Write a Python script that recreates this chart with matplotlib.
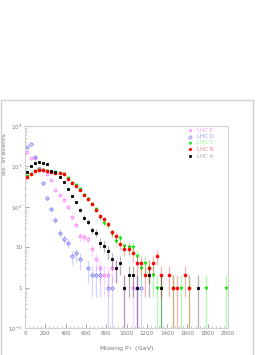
import numpy as np
import matplotlib
matplotlib.use("Agg")
import matplotlib.pyplot as plt
from matplotlib.ticker import FixedLocator, MultipleLocator, NullFormatter, LogLocator
from matplotlib.lines import Line2D

# bin centres (GeV), 40 GeV bins
bin_centers = np.arange(20, 2000, 40)

lhc_a = [714, 1040, 1190, 1260, 1190, 1150, 784, 714, 547, 404,
         280, 185, 129, 82, 54, 43, 27, 23, 13, 11,
         8, 5, 3, 4, 1, 2, 2, 1, 0, 0,
         2, 0, 0, 1, 0, 0, 0, 0, 0, 0,
         0, 0, 1, 0, 0, 0, 0, 0, 0, 0]
lhc_b = [540, 636, 760, 800, 800, 770, 725, 700, 675, 650,
         490, 395, 333, 263, 196, 154, 115, 83, 59, 49,
         37, 24, 19, 12, 9, 9, 7, 4, 4, 2,
         3, 4, 6, 2, 0, 2, 1, 1, 0, 2,
         1, 0, 0, 0, 0, 0, 0, 0, 0, 0]
lhc_c = [575, 660, 790, 820, 800, 780, 740, 720, 690, 660,
         510, 395, 350, 275, 200, 160, 120, 90, 55, 39,
         36, 22, 14, 17, 11, 10, 10, 6, 3, 4,
         3, 2, 1, 1, 0, 0, 1, 0, 1, 0,
         1, 0, 0, 0, 1, 0, 0, 0, 0, 1]
lhc_d = [2960, 3530, 1740, 850, 395, 162, 87, 47, 23, 16,
         13, 6, 7, 5, 0, 3, 2, 2, 2, 0,
         1, 1, 0, 0, 0, 0, 0, 1, 1, 0,
         0, 0, 0, 0, 0, 0, 0, 0, 0, 0,
         0, 0, 0, 0, 0, 0, 0, 0, 0, 0]
lhc_e = [2330, 1650, 1650, 900, 800, 660, 460, 255, 195, 150,
         100, 55, 36, 19, 18, 16, 9, 5, 3, 2,
         2, 3, 3, 0, 1, 0, 1, 1, 0, 0,
         0, 0, 0, 0, 0, 0, 0, 0, 0, 0,
         0, 0, 0, 0, 0, 0, 0, 0, 0, 0]

labels = ["LHC E", "LHC D", "LHC C", "LHC B", "LHC A"]
x_ticks = [0, 200, 400, 600, 800, 1000, 1200, 1400, 1600, 1800, 2000]
x_tick_labels = ["0", "200", "400", "600", "800", "1000", "1200", "1400", "1600", "1800", "2000"]
y_ticks = [0.1, 1, 10, 100, 1000, 10000]
y_tick_labels = ["$10^{-1}$", "1", "10", "$10^{2}$", "$10^{3}$", "$10^{4}$"]

W, H = 274, 355
fig = plt.figure(figsize=(W / 100, H / 100), dpi=100)
fig.patch.set_facecolor("white")

# outer gray frame
frame_col = "#d4d4d4"
fig.add_artist(Line2D([0.5 / W, 0.5 / W], [0, (H - 100) / H], color=frame_col, lw=1))
fig.add_artist(Line2D([253 / W, 253 / W], [0, (H - 100) / H], color=frame_col, lw=1))
fig.add_artist(Line2D([0.5 / W, 253 / W], [(H - 100) / H, (H - 100) / H], color=frame_col, lw=1))

ax = fig.add_axes([25 / W, (H - 328) / H, 203 / W, 202 / H])
ax.set_yscale("log")
ax.set_xlim(0, 2000)
ax.set_ylim(0.1, 10000)

series = [
    (lhc_e, "#ff77ff", "o", "none", "#ff99ff", 2.0),
    (lhc_d, "#7777ff", "D", "none", "#9999ff", 1.9),
    (lhc_c, "#00ee00", "v", "#00ee00", "#88ff88", 2.0),
    (lhc_b, "#ff0000", "o", "#ff0000", "#ff8888", 2.0),
    (lhc_a, "#000000", "s", "#000000", "#aaaaaa", 1.6),
]

for vals, col, mk, fc, _, ms in series:
    v = np.array(vals, dtype=float)
    m = v > 0
    x = bin_centers[m]
    y = v[m]
    err = np.sqrt(y)
    lo = np.where(y - err <= 0, y - 1e-4, err)
    ax.errorbar(x, y, yerr=[lo, err], fmt="none", ecolor=col, alpha=0.3,
                elinewidth=0.9, capsize=0)
    ax.plot(x, y, linestyle="none", marker=mk, markersize=ms,
            markerfacecolor=fc, markeredgecolor=col, markeredgewidth=0.6)

# legend (manual)
rows_y = [0.980, 0.948, 0.916, 0.884, 0.851]
for (vals, col, mk, fc, tcol, ms), lab, yy in zip(series, labels, rows_y):
    ax.plot([0.813], [yy], transform=ax.transAxes, linestyle="none", marker=mk,
            markersize=1.8, markerfacecolor=fc, markeredgecolor=col,
            markeredgewidth=0.5, clip_on=False)
    ax.text(0.845, yy, lab, transform=ax.transAxes, fontsize=4, color=tcol,
            va="center", ha="left")

axis_col = "#d0d0d0"
for s in ax.spines.values():
    s.set_color(axis_col)
    s.set_linewidth(0.8)

ax.xaxis.set_major_locator(FixedLocator(x_ticks))
ax.set_xticklabels(x_tick_labels)
ax.xaxis.set_minor_locator(MultipleLocator(40))
ax.yaxis.set_major_locator(FixedLocator(y_ticks))
ax.set_yticklabels(y_tick_labels)
ax.yaxis.set_minor_locator(LogLocator(base=10, subs=np.arange(2, 10)))
ax.yaxis.set_minor_formatter(NullFormatter())

ax.tick_params(axis="both", which="major", direction="in", length=3, width=0.5,
               color="#888888", labelsize=4, labelcolor="#777777", pad=2)
ax.tick_params(axis="both", which="minor", direction="in", length=1.5, width=0.4,
               color="#999999")
ax.tick_params(top=False, right=False, which="both")

ax.set_xlabel("Missing P$_\\mathrm{T}$  (GeV)", fontsize=4.5, color="#777777", labelpad=6)
ax.set_ylabel("No. of events", fontsize=4.5, color="#777777", labelpad=3)
ax.yaxis.set_label_coords(-0.09, 0.86)

fig.savefig("out.png", dpi=100)
